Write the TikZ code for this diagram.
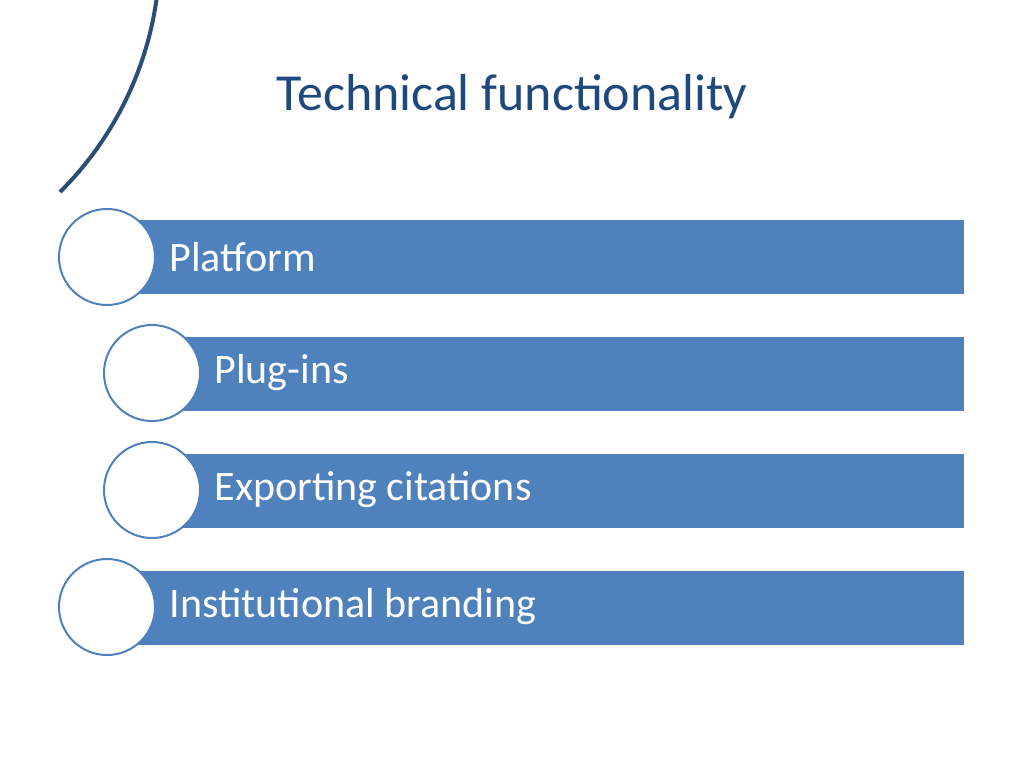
\documentclass[tikz,border=0pt]{standalone}
\usepackage{fontspec}
\setmainfont{Carlito}
\definecolor{bar}{HTML}{4F81BD}
\definecolor{ttl}{HTML}{1F497D}
\definecolor{arc}{HTML}{2C4D75}
\begin{document}
\begin{tikzpicture}[x=1pt,y=-1pt,
  barbox/.style={fill=bar,draw=none},
  circ/.style={circle,draw=bar,line width=2pt,fill=white,minimum size=96pt,inner sep=0pt},
  lbl/.style={anchor=west,text=white,font=\fontsize{42}{48}\selectfont}]
\useasboundingbox (0,0) rectangle (1024,768);
\node[text=ttl,font=\fontsize{52}{60}\selectfont] (title) at (512,97) {Technical functionality};
\draw[arc,line width=4pt] (60,192) arc[start angle=45.2,end angle=-45.2,radius=338];
\fill[barbox] (130,220) rectangle (964,294);
\fill[barbox] (175,337) rectangle (964,411);
\fill[barbox] (175,454) rectangle (964,528);
\fill[barbox] (130,571) rectangle (964,645);
\node[circ] (c1) at (107,257) {};
\node[circ] (c2) at (152,373) {};
\node[circ] (c3) at (152,490) {};
\node[circ] (c4) at (107,607) {};
\node[lbl] (t1) at (166,257) {Platform};
\node[lbl] (t2) at (211,373) {Plug-ins};
\node[lbl] (t3) at (211,490) {Exporting citations};
\node[lbl] (t4) at (166,607) {Institutional branding};
\end{tikzpicture}
\end{document}
